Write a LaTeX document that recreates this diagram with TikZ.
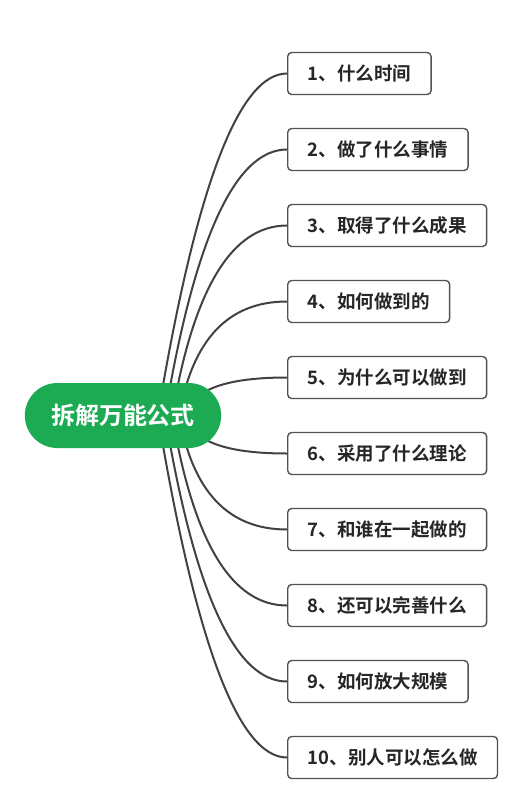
\documentclass[tikz,border=0pt]{standalone}
\usepackage{fontspec}
\newfontfamily\cjk{Noto Sans CJK SC}[BoldFont={Noto Sans CJK SC Bold}]
\usetikzlibrary{calc,backgrounds,shapes.misc}
\definecolor{rootgreen}{RGB}{28,170,83}
\definecolor{linkgray}{RGB}{66,66,66}

\begin{document}
\begin{tikzpicture}[x=1pt, y=-1pt,
  root/.style={rounded rectangle, fill=rootgreen, minimum width=203pt, minimum height=65pt,
    text=white, font=\cjk\bfseries\fontsize{24}{28}\selectfont},
  topic/.style={draw=black!68, line width=1.4pt, rounded corners=4pt, fill=white, anchor=west,
    minimum height=42pt, inner xsep=20pt, text=black!85, font=\cjk\bfseries\fontsize{18.5}{22}\selectfont},
  link/.style={draw=linkgray, line width=2pt},
  ]
  \useasboundingbox (0,0) rectangle (524,801);

  %%% central topic %%%
  \node[root] (root) at (123,415.5) {拆解万能公式};

  %%% subtopics %%%
  \foreach \i/\txt in {1/1、什么时间, 2/2、做了什么事情, 3/3、取得了什么成果, 4/4、如何做到的,
      5/5、为什么可以做到, 6/6、采用了什么理论, 7/7、和谁在一起做的, 8/8、还可以完善什么,
      9/9、如何放大规模, 10/10、别人可以怎么做}
    \node[topic] (b\i) at (287,{73.5+76*(\i-1)}) {\txt};

  %%% curved links behind the central topic %%%
  \begin{scope}[on background layer]
    \fill[white] (0,0) rectangle (524,801);
    \foreach \i in {1,...,10} {
      \pgfmathsetmacro{\yi}{73.5+76*(\i-1)}
      \pgfmathsetmacro{\dy}{abs(\yi-415.5)}
      \pgfmathsetmacro{\so}{67-0.094*\dy}
      \pgfmathsetmacro{\qx}{191+0.069*\dy}
      \coordinate (s\i) at ($(root.center)+(\so,0)$);
      \draw[link] (s\i) .. controls ($(s\i)!2/3!(\qx,\yi)$) and ($(b\i.west)!2/3!(\qx,\yi)$) .. (b\i.west);
    }
  \end{scope}
\end{tikzpicture}
\end{document}
